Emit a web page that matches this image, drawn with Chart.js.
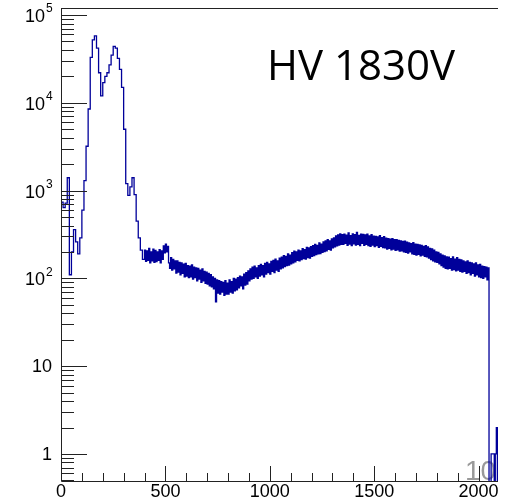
<!DOCTYPE html>
<html>
<head>
<meta charset="utf-8">
<script src="https://cdn.jsdelivr.net/npm/chart.js@4.4.0/dist/chart.umd.min.js"></script>
<style>
  body { margin: 0; background: #fff; }
  #wrap { width: 498px; height: 502px; }
</style>
</head>
<body>
<div id="wrap"><canvas id="myChart"></canvas></div>
<script>
// counts: 10-channel bins for 0-400, 5-channel bins after
const peakBinWidth = 10;
const peakCounts = [
  740, 640, 720, 1400, 110, 200, 360, 260, 190, 290,
  600, 1300, 3200, 8500, 33000, 52000, 58000, 42000, 22000, 12000,
  17000, 20000, 22000, 27000, 35000, 44000, 42000, 32000, 24000, 15000,
  5000, 1200, 880, 1100, 1400, 900, 450, 290, 210, 165
];
const tailStart = 400;
const tailBinWidth = 5;
const tailCounts = [
  210, 156, 205, 160, 220, 150, 200, 158, 215, 152,
  208, 155, 200, 160, 212, 150, 205, 165, 235, 195,
  245, 200, 232, 150, 130, 172, 124, 165, 128, 158,
  115, 158, 118, 152, 110, 150, 114, 145, 104, 148,
  106, 140, 102, 138, 104, 142, 98, 134, 102, 132,
  94, 130, 98, 124, 90, 128, 94, 120, 88, 118,
  86, 114, 82, 110, 80, 104, 76, 100, 54, 96,
  68, 94, 66, 92, 70, 90, 64, 94, 66, 88,
  66, 96, 70, 92, 68, 100, 72, 98, 74, 102,
  78, 106, 82, 104, 76, 112, 84, 116, 86, 122,
  94, 128, 98, 134, 100, 138, 104, 132, 100, 140,
  106, 144, 110, 140, 104, 148, 112, 152, 116, 146,
  112, 156, 120, 160, 116, 166, 124, 158, 120, 170,
  128, 174, 132, 182, 136, 178, 140, 190, 142, 184,
  146, 196, 150, 204, 154, 200, 160, 210, 158, 206,
  164, 218, 168, 212, 166, 226, 172, 222, 170, 230,
  178, 236, 182, 244, 186, 238, 190, 254, 192, 246,
  198, 260, 202, 268, 206, 276, 214, 268, 210, 282,
  222, 290, 228, 304, 234, 312, 240, 322, 244, 314,
  244, 320, 250, 310, 238, 330, 246, 306, 236, 322,
  248, 314, 240, 334, 244, 308, 236, 320, 250, 316,
  238, 312, 244, 318, 236, 304, 232, 314, 240, 302,
  230, 300, 236, 296, 226, 306, 232, 292, 224, 298,
  222, 288, 216, 284, 220, 280, 212, 284, 216, 276,
  208, 276, 212, 270, 204, 268, 206, 264, 200, 266,
  198, 258, 194, 254, 200, 248, 190, 256, 188, 246,
  184, 244, 188, 240, 180, 238, 184, 232, 178, 236,
  176, 228, 170, 220, 164, 216, 158, 210, 154, 200,
  152, 198, 146, 190, 140, 184, 134, 180, 130, 176,
  128, 174, 130, 168, 124, 176, 126, 166, 122, 172,
  124, 164, 120, 162, 118, 158, 120, 154, 114, 158,
  116, 152, 110, 150, 114, 146, 106, 150, 110, 142,
  104, 144, 102, 138, 100, 136, 104, 134, 96, 132,
  0.1, 0.1, 1, 1, 1, 0.1, 1, 2
];

const xTickValues = [0, 500, 1000, 1500, 2000];
const xTickLabels = ['0', '500', '1000', '1500', '2000'];
const yTickValues = [1, 10, 100, 1000, 10000, 100000];
const yTickBase = ['1', '10', '10', '10', '10', '10'];
const yTickExp = ['', '', '2', '3', '4', '5'];

// points at bin left edges, drawn as steps
const points = peakCounts.map((c, i) => ({ x: i * peakBinWidth, y: c }))
  .concat(tailCounts.map((c, j) => ({ x: tailStart + j * tailBinWidth, y: c })));
points.push({ x: tailStart + tailCounts.length * tailBinWidth, y: 0.1 });

const rootAxes = {
  id: 'rootAxes',
  beforeDatasetsDraw(chart) {
    const ctx = chart.ctx;
    ctx.save();
    ctx.fillStyle = '#9a9a9a';
    ctx.font = '28px "Liberation Sans"';
    ctx.textBaseline = 'alphabetic';
    ctx.fillText('10', 465, 480);
    ctx.restore();
  },
  afterDatasetsDraw(chart) {
    const ctx = chart.ctx;
    const a = chart.chartArea;
    const xs = chart.scales.x, ys = chart.scales.y;
    ctx.save();
    ctx.strokeStyle = '#222';
    ctx.lineWidth = 1;
    ctx.beginPath();
    ctx.moveTo(a.left + 0.5, a.top + 0.5);
    ctx.lineTo(a.right, a.top + 0.5);
    ctx.moveTo(a.left + 0.5, a.top);
    ctx.lineTo(a.left + 0.5, a.bottom + 0.5);
    ctx.lineTo(a.right, a.bottom + 0.5);
    ctx.stroke();

    // y ticks (inside)
    ctx.beginPath();
    for (let n = -1; n <= 5; n++) {
      for (let k = 1; k <= 9; k++) {
        const v = k * Math.pow(10, n);
        if (v < ys.min || v > ys.max) continue;
        const py = Math.round(ys.getPixelForValue(v)) + 0.5;
        const len = k === 1 ? 26 : 13;
        ctx.moveTo(a.left, py);
        ctx.lineTo(a.left + len, py);
      }
    }
    // x ticks (inside)
    for (let v = 0; v <= xs.max; v += 100) {
      const px = Math.round(xs.getPixelForValue(v)) + 0.5;
      const len = v % 500 === 0 ? 15 : 8;
      ctx.moveTo(px, a.bottom);
      ctx.lineTo(px, a.bottom - len);
    }
    ctx.stroke();

    ctx.fillStyle = '#000';
    ctx.textBaseline = 'middle';
    ctx.textAlign = 'center';
    ctx.font = '18px "Liberation Sans"';
    xTickValues.forEach((v, i) => {
      ctx.fillText(xTickLabels[i], xs.getPixelForValue(v), 492);
    });

    yTickValues.forEach((v, i) => {
      const py = ys.getPixelForValue(v);
      ctx.textAlign = 'right';
      ctx.font = '18px "Liberation Sans"';
      if (yTickExp[i]) {
        ctx.fillText(yTickBase[i], 45, py + 2);
        ctx.textAlign = 'left';
        ctx.font = '12px "Liberation Sans"';
        ctx.fillText(yTickExp[i], 46, py - 6);
      } else {
        ctx.fillText(yTickBase[i], 52, py + 1);
      }
    });

    ctx.textAlign = 'left';
    ctx.textBaseline = 'alphabetic';
    ctx.font = '42px "Open Sans"';
    ctx.fillText('HV 1830V', 267, 80);
    ctx.restore();
  }
};

const ctx = document.getElementById('myChart').getContext('2d');
const myChart = new Chart(ctx, {
  type: 'line',
  data: {
    datasets: [{
      data: points,
      borderColor: '#00009a',
      borderWidth: 1.3,
      stepped: true,
      pointRadius: 0,
      fill: false,
    }]
  },
  options: {
    responsive: true,
    maintainAspectRatio: false,
    animation: false,
    events: [],
    layout: { padding: { left: 61, top: 8, right: 0, bottom: 21 } },
    plugins: { legend: { display: false }, tooltip: { enabled: false } },
    scales: {
      x: { type: 'linear', min: 0, max: 2093, display: false },
      y: { type: 'logarithmic', min: 0.492, max: 120200, display: false }
    }
  },
  plugins: [rootAxes]
});
</script>
</body>
</html>
